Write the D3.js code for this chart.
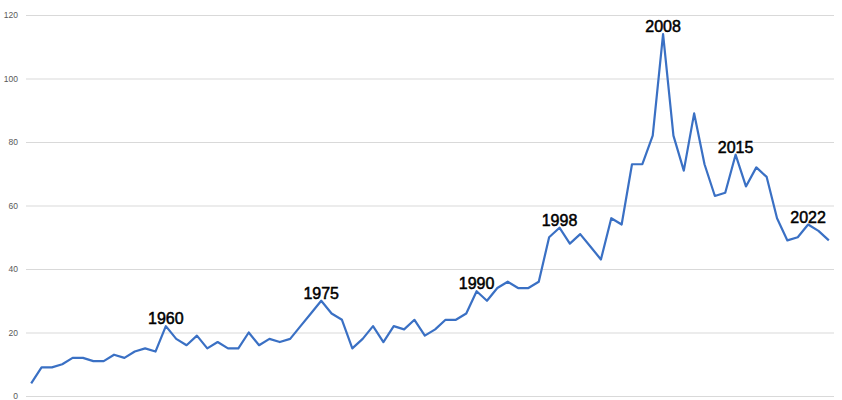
<!DOCTYPE html>
<html><head><meta charset="utf-8">
<script src="https://cdn.jsdelivr.net/npm/d3@7"></script>
<style>body{margin:0;background:#fff}svg{display:block}</style>
</head><body>
<svg id="c" width="842" height="400"></svg>
<script>
const years = d3.range(1947, 2025);
const values = [
  4, 9, 9, 10, 12, 12, 11, 11, 13, 12, 14, 15, 14, 22, 18, 16, 19, 15, 17, 15, 15, 20, 16, 18,
  17, 18, 22, 26, 30, 26, 24, 15, 18, 22, 17, 22, 21, 24, 19, 21, 24, 24, 26, 33, 30, 34, 36, 34, 34, 36,
  50, 53, 48, 51, 47, 43, 56, 54, 73, 73, 82, 114, 82, 71, 89, 73, 63, 64, 76, 66, 72, 69, 56, 49, 50, 54, 52, 49
];
const yTicks = [0, 20, 40, 60, 80, 100, 120];
const labelYears = [1960, 1975, 1990, 1998, 2008, 2015, 2022];

const svg = d3.select("#c");
const mLeft = 26, mRight = 834, mTop = 15, mBottom = 396;
const x = d3.scalePoint().domain(years).range([mLeft, mRight]).padding(0.5);
const y = d3.scaleLinear().domain([0, 120]).range([mBottom, mTop]);

const yAxis = d3.axisLeft(y).tickValues(yTicks).tickSize(-(mRight - mLeft)).tickPadding(8);
const ga = svg.append("g").attr("transform", `translate(${mLeft},0)`).call(yAxis);
ga.select(".domain").remove();
ga.selectAll(".tick line").attr("stroke", "#d9d9d9").attr("stroke-width", 1);
ga.selectAll(".tick text").attr("fill", "#595959").attr("font-size", "8.5px")
  .attr("font-family", "Liberation Sans, Arial, sans-serif");

const data = years.map((yr, i) => ({yr, v: values[i]}));
svg.append("path").datum(data)
  .attr("fill", "none").attr("stroke", "#3a70c4").attr("stroke-width", 2.2)
  .attr("stroke-linejoin", "round")
  .attr("d", d3.line().x(d => x(d.yr)).y(d => y(d.v)));

svg.selectAll("text.lbl").data(data.filter(d => labelYears.includes(d.yr)))
  .join("text").attr("class", "lbl")
  .attr("x", d => x(d.yr)).attr("y", d => y(d.v) - 2)
  .attr("text-anchor", "middle")
  .attr("font-family", "Liberation Sans, Arial, sans-serif")
  .attr("font-size", "16px").attr("fill", "#000")
  .attr("stroke", "#000").attr("stroke-width", 0.5)
  .text(d => d.yr);
</script>
</body></html>
